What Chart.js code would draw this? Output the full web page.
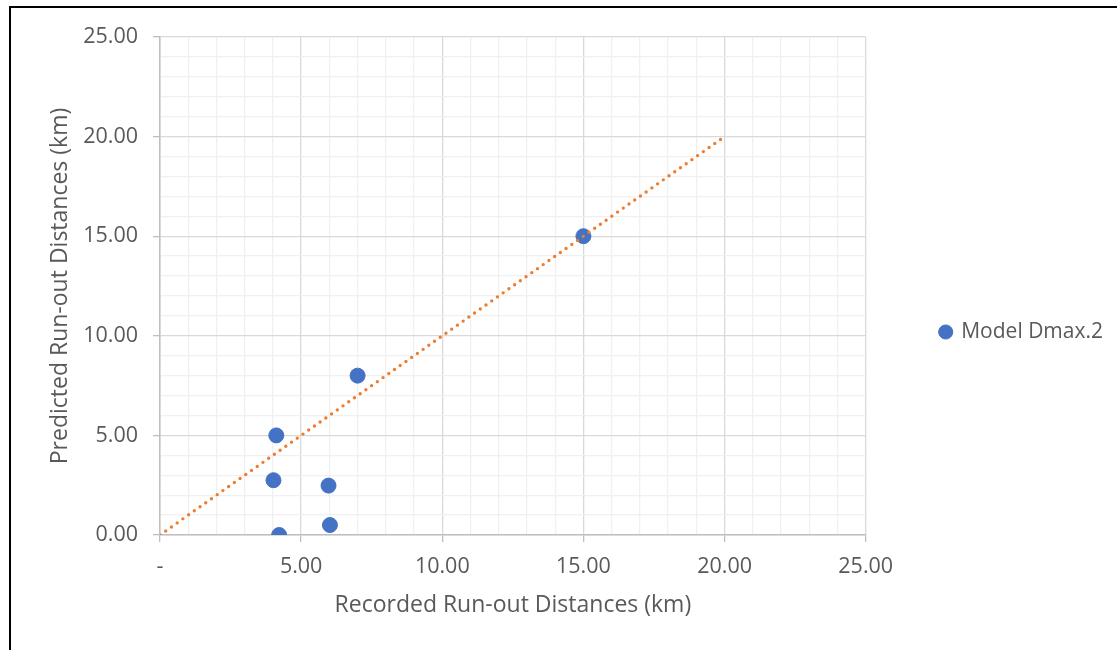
<!DOCTYPE html>
<html>
<head>
<meta charset="utf-8">
<script src="https://cdn.jsdelivr.net/npm/chart.js@4.4.1/dist/chart.umd.min.js"></script>
<style>
  html, body { margin: 0; padding: 0; background: #fff; overflow: hidden; }
  #wrap { position: absolute; left: 0; top: 0; width: 1117px; height: 650px; }
  #frame { position: absolute; left: 9px; top: 6px; width: 2000px; height: 2000px;
           border-left: 2px solid #000; border-top: 2px solid #000; pointer-events: none; }
</style>
</head>
<body>
<div id="wrap"><canvas id="c" width="1117" height="650"></canvas></div>
<div id="frame"></div>
<script>
// Data
const seriesName = "Model Dmax.2";
const recorded  = [4.22, 4.02, 4.12, 5.97, 6.02, 7.00, 15.00];
const predicted = [0.00, 2.75, 5.00, 2.48, 0.50, 8.00, 15.00];
const lineX = [0, 20];
const lineY = [0, 20];
const xTitle = "Recorded Run-out Distances (km)";
const yTitle = "Predicted Run-out Distances (km)";

const FONT = "'Open Sans', sans-serif";
const TXT = "#595959";

const pts = recorded.map((x, i) => ({ x: x, y: predicted[i] }));
const linePts = lineX.map((x, i) => ({ x: x, y: lineY[i] }));

function gridColor(ctx) {
  return (ctx.tick && ctx.tick.value % 5 === 0) ? "#d9d9d9" : "#f0f0f0";
}
function tickCol(ctx) {
  return (ctx.tick && ctx.tick.value % 5 === 0) ? "#bfbfbf" : "rgba(0,0,0,0)";
}

new Chart(document.getElementById("c"), {
  type: "scatter",
  data: {
    datasets: [
      {
        label: seriesName,
        data: pts,
        backgroundColor: "#4472c4",
        borderColor: "#4472c4",
        pointRadius: 7.5,
        pointHoverRadius: 7.5,
        order: 2
      },
      {
        label: "trend",
        data: linePts,
        showLine: true,
        pointRadius: 0,
        borderColor: "#ed7d31",
        borderWidth: 3.4,
        borderDash: [0, 7],
        borderCapStyle: "round",
        order: 1
      }
    ]
  },
  options: {
    responsive: false,
    animation: false,
    layout: { padding: { left: 0, top: 37, right: 4, bottom: 23 } },
    plugins: {
      tooltip: { enabled: false },
      legend: {
        position: "right",
        labels: {
          filter: (item) => item.datasetIndex === 0,
          usePointStyle: true,
          pointStyle: "circle",
          boxWidth: 10,
          boxHeight: 10,
          color: TXT,
          font: { family: FONT, size: 21 },
          padding: 12
        }
      }
    },
    scales: {
      x: {
        type: "linear",
        min: 0, max: 25,
        ticks: {
          stepSize: 1,
          autoSkip: false,
          maxRotation: 0,
          color: TXT,
          font: { family: FONT, size: 21.5 },
          padding: 12,
          callback: (v) => v % 5 !== 0 ? "" : (v === 0 ? "-" : v.toFixed(2))
        },
        grid: { color: gridColor, tickColor: tickCol, tickLength: 7, lineWidth: 1.3 },
        border: { color: "#bfbfbf", width: 1.5 },
        title: { display: true, text: xTitle, color: TXT, font: { family: FONT, size: 23 }, padding: { top: 4, bottom: 8 } },
        afterFit: (s) => { s.height = 92; }
      },
      y: {
        type: "linear",
        min: 0, max: 25,
        ticks: {
          stepSize: 1,
          autoSkip: false,
          color: TXT,
          font: { family: FONT, size: 21.5 },
          padding: 15,
          callback: (v) => v % 5 !== 0 ? "" : v.toFixed(2)
        },
        grid: { color: gridColor, tickColor: tickCol, tickLength: 7, lineWidth: 1.3 },
        border: { color: "#bfbfbf", width: 1.5 },
        title: { display: true, text: yTitle, color: TXT, font: { family: FONT, size: 23 }, padding: { top: 47, bottom: 4 } },
        afterFit: (s) => { s.width = 160; }
      },
      gap: {
        type: "linear",
        position: "right",
        min: 0, max: 25,
        grid: { display: false, drawTicks: false },
        ticks: { display: false },
        border: { display: false },
        afterFit: (s) => { s.width = 63; }
      }
    }
  }
});
</script>
</body>
</html>
